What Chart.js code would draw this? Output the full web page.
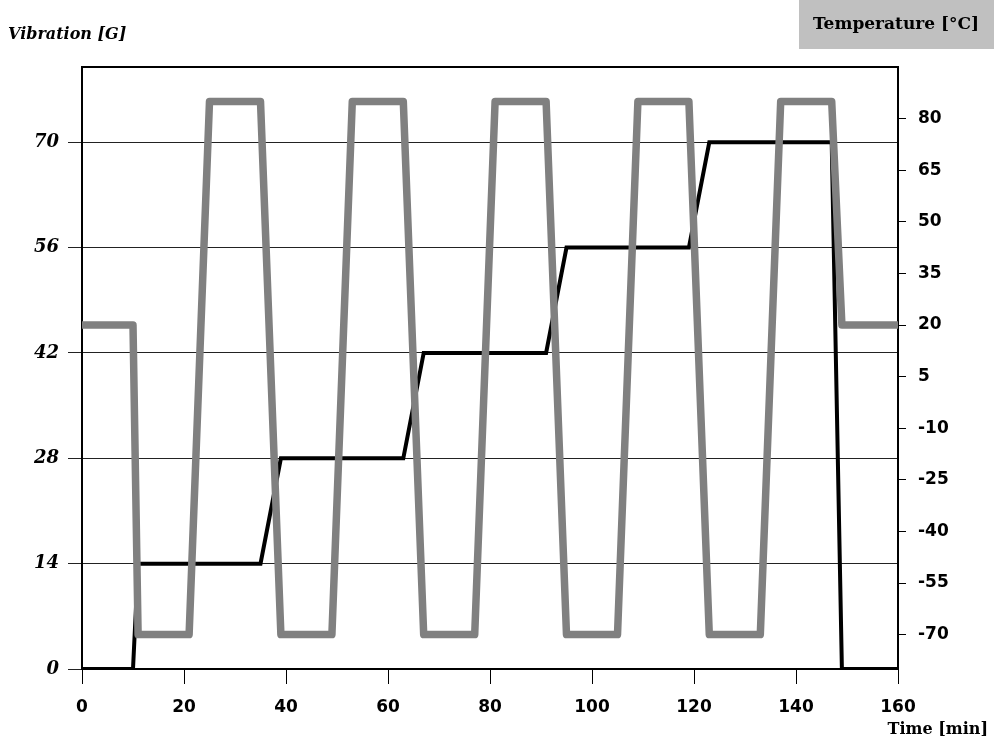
<!DOCTYPE html>
<html>
<head>
<meta charset="utf-8">
<script src="https://cdn.jsdelivr.net/npm/chart.js@4/dist/chart.umd.min.js"></script>
<style>
  body { margin: 0; background: #fff; }
  #wrap { position: relative; width: 994px; height: 746px; }
</style>
</head>
<body>
<div id="wrap"><canvas id="cycle_chart" width="994" height="746"></canvas></div>
<script>
// vibration profile (G) vs time (min)
var vibTime = [0, 10, 11, 35, 39, 63, 67, 91, 95, 119, 123, 147, 149, 160];
var vibG    = [0, 0, 14, 14, 28, 28, 42, 42, 56, 56, 70, 70, 0, 0];

// temperature cycling (degC) vs time (min)
var tempTime = [0, 10, 11, 21, 25, 35, 39, 49, 53, 63, 67, 77, 81, 91, 95, 105, 109, 119, 123, 133, 137, 147, 149, 160];
var tempC    = [20, 20, -70, -70, 85, 85, -70, -70, 85, 85, -70, -70, 85, 85, -70, -70, 85, 85, -70, -70, 85, 85, 20, 20];

// axis tick labels
var timeTicks = [0, 20, 40, 60, 80, 100, 120, 140, 160];
var vibTicks  = [0, 14, 28, 42, 56, 70];
var tempTicks = [-70, -55, -40, -25, -10, 5, 20, 35, 50, 65, 80];

function to_points(xs, ys) {
    var pts = [];
    for (var i = 0; i < xs.length; i++) {
        pts.push({x: xs[i], y: ys[i]});
    }
    return pts;
}

function fixed_ticks(values) {
    return function(scale) {
        scale.ticks = values.map(function(v) { return {value: v}; });
    };
}

var serif = "'DejaVu Serif', serif";
var sans = "'DejaVu Sans', sans-serif";

// frame round the plot area plus the three titles
var framePlugin = {
    id: "frame",
    beforeDatasetsDraw: function(chart) {
        var a = chart.chartArea;
        var ctx = chart.ctx;
        ctx.save();
        ctx.strokeStyle = "#000";
        ctx.lineWidth = 2;
        ctx.strokeRect(a.left, a.top, a.right - a.left, a.bottom - a.top);
        ctx.restore();
    },
    afterDraw: function(chart) {
        var ctx = chart.ctx;
        ctx.save();
        ctx.fillStyle = "#c0c0c0";
        ctx.fillRect(799, 0, 195, 49);
        ctx.fillStyle = "#000";
        ctx.textBaseline = "middle";
        ctx.textAlign = "center";
        ctx.font = "bold 17px " + serif;
        ctx.fillText("Temperature [°C]", 896, 25);
        ctx.textAlign = "left";
        ctx.font = "italic bold 16px " + serif;
        ctx.fillText("Vibration [G]", 8, 35);
        ctx.textAlign = "right";
        ctx.font = "bold 16px " + serif;
        ctx.fillText("Time [min]", 988, 730);
        ctx.restore();
    }
};

var ctx = document.getElementById("cycle_chart");
var myChart = new Chart(ctx, {
    type: "line",
    data: {
        datasets: [
            {
                label: "Temperature",
                data: to_points(tempTime, tempC),
                yAxisID: "y1",
                borderColor: "#808080",
                borderWidth: 7.5,
                borderJoinStyle: "round",
                borderCapStyle: "round",
                pointRadius: 0,
                tension: 0,
                fill: false,
                order: 0
            },
            {
                label: "Vibration",
                data: to_points(vibTime, vibG),
                yAxisID: "y",
                borderColor: "#000",
                borderWidth: 4,
                borderJoinStyle: "miter",
                pointRadius: 0,
                tension: 0,
                fill: false,
                order: 1
            }
        ]
    },
    options: {
        responsive: false,
        animation: false,
        layout: { padding: { top: 67, left: 0, right: 0, bottom: 0 } },
        plugins: {
            legend: { display: false },
            tooltip: { enabled: false }
        },
        scales: {
            x: {
                type: "linear",
                min: 0,
                max: 160,
                afterBuildTicks: fixed_ticks(timeTicks),
                afterFit: function(s) { s.height = 77; },
                border: { display: false },
                grid: {
                    drawOnChartArea: false,
                    drawTicks: true,
                    tickLength: 15,
                    color: "#000",
                    lineWidth: 1
                },
                ticks: {
                    color: "#000",
                    padding: 13,
                    maxRotation: 0,
                    font: { family: sans, size: 17, weight: "bold" }
                }
            },
            y: {
                type: "linear",
                position: "left",
                min: 0,
                max: 80,
                afterBuildTicks: fixed_ticks(vibTicks),
                afterFit: function(s) { s.width = 82; },
                border: { display: false },
                grid: {
                    drawOnChartArea: true,
                    drawTicks: true,
                    tickLength: 14,
                    color: "#222",
                    lineWidth: 1
                },
                ticks: {
                    color: "#000",
                    padding: 9,
                    font: { family: serif, size: 18, weight: "bold", style: "italic" }
                }
            },
            y1: {
                type: "linear",
                position: "right",
                min: -80,
                max: 95,
                afterBuildTicks: fixed_ticks(tempTicks),
                afterFit: function(s) { s.width = 96; },
                border: { display: false },
                grid: {
                    drawOnChartArea: false,
                    drawTicks: true,
                    tickLength: 8,
                    color: "#000",
                    lineWidth: 1
                },
                ticks: {
                    color: "#000",
                    padding: 12,
                    font: { family: sans, size: 17, weight: "bold" }
                }
            }
        }
    },
    plugins: [framePlugin]
});
</script>
</body>
</html>
